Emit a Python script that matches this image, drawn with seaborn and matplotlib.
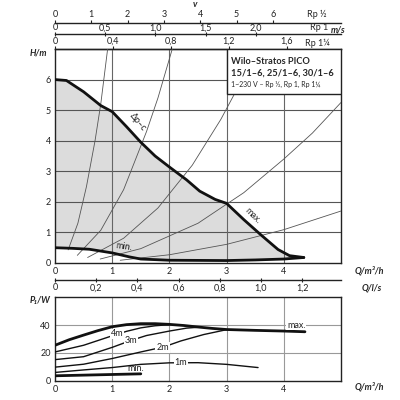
import numpy as np
import matplotlib
matplotlib.use("Agg")
import matplotlib.pyplot as plt
from matplotlib.patches import Rectangle
import seaborn as sns

# pump curve H(Q)
max_q = [0, 0.2, 0.5, 0.8, 1.0, 1.25, 1.5, 1.75, 2.0, 2.3, 2.53, 2.8, 3.0, 3.3, 3.6, 3.9, 4.1, 4.35]
max_h = [6.0, 5.97, 5.6, 5.15, 4.95, 4.46, 3.95, 3.5, 3.14, 2.72, 2.35, 2.08, 1.95, 1.42, 0.92, 0.44, 0.24, 0.18]
min_q = [0, 0.3, 0.6, 1.0, 1.3, 1.5, 2.0, 3.0, 3.5, 4.0, 4.35]
min_h = [0.5, 0.48, 0.45, 0.33, 0.2, 0.13, 0.09, 0.08, 0.1, 0.13, 0.18]

# system curves (thin lines)
sys_q = [
    [0.23, 0.4, 0.55, 0.7, 0.8, 0.92],
    [0.39, 0.8, 1.2, 1.6, 1.8, 2.05],
    [0.57, 1.2, 1.8, 2.4, 2.9, 3.2, 3.54],
    [0.79, 1.5, 2.5, 3.3, 4.0, 4.5, 5.0],
    [1.14, 2.0, 3.0, 4.0, 5.0],
]
sys_h = [
    [0.43, 1.3, 2.5, 4.0, 5.2, 7.0],
    [0.25, 1.07, 2.4, 4.3, 5.4, 7.0],
    [0.18, 0.81, 1.8, 3.2, 4.7, 5.75, 7.0],
    [0.13, 0.47, 1.3, 2.3, 3.4, 4.25, 5.25],
    [0.09, 0.27, 0.61, 1.09, 1.7],
]

# power P1(Q)
p_max_q = [0, 0.25, 0.5, 0.75, 1.0, 1.25, 1.5, 1.75, 2.0, 2.25, 2.5, 2.75, 3.0, 3.5, 4.0, 4.37]
p_max_w = [25.5, 29.5, 32.8, 36.0, 38.8, 40.3, 41.0, 41.0, 40.5, 39.7, 38.6, 37.6, 36.8, 36.2, 35.7, 35.2]
p_4m_q = [0, 0.5, 1.0, 1.25, 1.5, 1.75, 2.0]
p_4m_w = [20.7, 25.5, 32.3, 35.5, 38.0, 39.5, 40.3]
p_3m_q = [0, 0.5, 1.0, 1.33, 1.6, 2.0, 2.3, 2.55]
p_3m_w = [15.2, 17.3, 24.0, 29.0, 32.5, 35.7, 37.8, 38.6]
p_2m_q = [0, 0.5, 1.0, 1.5, 1.9, 2.2, 2.6, 3.0]
p_2m_w = [9.8, 11.9, 16.0, 20.7, 24.3, 28.6, 33.2, 36.7]
p_1m_q = [0, 0.5, 1.0, 1.5, 2.0, 2.5, 3.0, 3.55]
p_1m_w = [6.0, 7.8, 9.5, 11.8, 12.9, 13.0, 11.8, 9.5]
p_min_q = [0, 1.5]
p_min_w = [3.6, 5.0]

q_ticks = [0, 1, 2, 3, 4]
h_ticks = [0, 1, 2, 3, 4, 5, 6]
p_ticks = [0, 20, 40]

sns.set_style("white")
plt.rcParams['font.family'] = ['Lato', 'DejaVu Sans']

fig = plt.figure(figsize=(4, 4), dpi=100)
ax = fig.add_axes([0.1375, 0.3425, 0.715, 0.535])
axp = fig.add_axes([0.1375, 0.048, 0.715, 0.209])

fs = 6.5

# ---- main chart ----
ax.set_xlim(0, 5)
ax.set_ylim(0, 7)
ax.fill_between(max_q, max_h, np.interp(max_q, min_q, min_h), color='#dcdcdc', lw=0, zorder=1)
for y in range(1, 7):
    ax.axhline(y, color='#555555', lw=0.8, zorder=2)
for x in range(1, 5):
    ax.axvline(x, color='#666666', lw=0.8, zorder=2)
for qs, hs in zip(sys_q, sys_h):
    sns.lineplot(x=qs, y=hs, ax=ax, color='#555555', lw=0.6, sort=False, zorder=3)
sns.lineplot(x=max_q, y=max_h, ax=ax, color='#111111', lw=2.0, sort=False, zorder=4)
sns.lineplot(x=min_q, y=min_h, ax=ax, color='#111111', lw=2.0, sort=False, zorder=4)

ax.set_xticks(q_ticks)
ax.set_yticks(h_ticks)
ax.tick_params(length=0, labelsize=fs, pad=3, colors='#222222')
for s in ax.spines.values():
    s.set_linewidth(1.0)
    s.set_color('#222222')

ax.text(1.45, 4.6, 'Δp–c', rotation=-50, fontsize=fs, ha='center', va='center', zorder=6)
ax.text(3.45, 1.55, 'max.', rotation=-45, fontsize=fs, ha='center', va='center', zorder=6)
ax.text(1.2, 0.52, 'min.', rotation=-8, fontsize=fs, ha='center', va='center', zorder=6)

# title box
ax.add_patch(Rectangle((0.6, 0.79), 0.4, 0.21, transform=ax.transAxes, facecolor='white',
                       edgecolor='#222222', lw=1.0, zorder=5))
ax.text(0.615, 0.94, 'Wilo–Stratos PICO', transform=ax.transAxes, fontsize=6.7,
        fontweight='bold', va='center', zorder=6)
ax.text(0.615, 0.888, '15/1–6, 25/1–6, 30/1–6', transform=ax.transAxes, fontsize=6.7,
        fontweight='bold', va='center', zorder=6)
ax.text(0.615, 0.836, '1~230 V – Rp ½, Rp 1, Rp 1¼', transform=ax.transAxes, fontsize=5.0,
        va='center', zorder=6)

ax.text(-0.028, 0.981, 'H/m', transform=ax.transAxes, fontsize=fs, fontweight='bold',
        fontstyle='italic', ha='right', va='center')
ax.text(1.101, -0.037, 'Q/m³/h', transform=ax.transAxes, fontsize=fs, fontweight='bold',
        fontstyle='italic', ha='center', va='center')

# velocity scales on top
def vel_axis(loc, k, ticks, labels, direction):
    sec = ax.secondary_xaxis(loc, functions=(lambda q: q / k, lambda v: v * k))
    sec.set_xticks(ticks)
    sec.set_xticklabels(labels)
    sec.tick_params(labelsize=fs, length=2.5, pad=0, direction=direction, colors='#222222')
    sec.spines['top'].set_linewidth(1.0)
    sec.spines['top'].set_color('#222222')
    return sec

vel_axis(1.0, 2.53, [0, 0.4, 0.8, 1.2, 1.6], ['0', '0,4', '0,8', '1,2', '1,6'], 'out')
vel_axis(1.07, 1.755, [0, 0.5, 1.0, 1.5, 2.0], ['0', '0,5', '1,0', '1,5', '2,0'], 'inout')
vel_axis(1.123, 0.635, [0, 1, 2, 3, 4, 5, 6], ['0', '1', '2', '3', '4', '5', '6'], 'out')

ax.text(0.916, 1.16, 'Rp ½', transform=ax.transAxes, fontsize=fs, ha='center', va='center')
ax.text(0.923, 1.1, 'Rp 1', transform=ax.transAxes, fontsize=fs, ha='center', va='center')
ax.text(0.916, 1.025, 'Rp 1¼', transform=ax.transAxes, fontsize=fs, ha='center', va='center')
ax.text(0.99, 1.089, 'm/s', transform=ax.transAxes, fontsize=fs, fontweight='bold',
        fontstyle='italic', ha='center', va='center')
ax.text(0.49, 1.206, 'v', transform=ax.transAxes, fontsize=fs, fontweight='bold',
        fontstyle='italic', ha='center', va='center')

# flow in l/s below
ls = ax.secondary_xaxis(-0.0794, functions=(lambda q: q / 3.6, lambda v: v * 3.6))
ls.set_xticks([0, 0.2, 0.4, 0.6, 0.8, 1.0, 1.2])
ls.set_xticklabels(['0', '0,2', '0,4', '0,6', '0,8', '1,0', '1,2'])
ls.tick_params(labelsize=fs, length=3, pad=1, direction='inout', colors='#222222')
ls.spines['bottom'].set_linewidth(1.0)
ls.spines['bottom'].set_color('#222222')
ax.text(1.108, -0.117, 'Q/l/s', transform=ax.transAxes, fontsize=fs, fontweight='bold',
        fontstyle='italic', ha='center', va='center')

# ---- power chart ----
axp.set_xlim(0, 5)
axp.set_ylim(0, 60)
for y in [20, 40]:
    axp.axhline(y, color='#999999', lw=0.8, zorder=1)
for x in range(1, 5):
    axp.axvline(x, color='#999999', lw=0.8, zorder=1)

for qs, ws in [(p_4m_q, p_4m_w), (p_3m_q, p_3m_w), (p_2m_q, p_2m_w), (p_1m_q, p_1m_w)]:
    sns.lineplot(x=qs, y=ws, ax=axp, color='#111111', lw=1.0, sort=False, zorder=3)
sns.lineplot(x=p_max_q, y=p_max_w, ax=axp, color='#111111', lw=2.0, sort=False, zorder=4)
sns.lineplot(x=p_min_q, y=p_min_w, ax=axp, color='#111111', lw=2.0, sort=False, zorder=4)

bg = dict(facecolor='white', edgecolor='none', pad=0.6)
for q, w, t in [(1.08, 33.6, '4m'), (1.33, 29.2, '3m'), (1.88, 23.9, '2m'), (2.2, 13.0, '1m'),
                (4.22, 40, 'max.')]:
    axp.text(q, w, t, fontsize=fs, ha='center', va='center', bbox=bg, zorder=5, color='#222222')
axp.text(1.41, 8.6, 'min.', fontsize=fs, ha='center', va='center', zorder=5, color='#222222')

axp.set_xticks(q_ticks)
axp.set_yticks(p_ticks)
axp.tick_params(length=0, labelsize=fs, pad=3, colors='#222222')
for s in axp.spines.values():
    s.set_linewidth(1.0)
    s.set_color('#222222')
axp.set_xlabel('')
axp.set_ylabel('')
ax.set_xlabel('')
ax.set_ylabel('')
axp.text(-0.017, 0.964, 'P₁/W', transform=axp.transAxes, fontsize=fs, fontweight='bold',
         fontstyle='italic', ha='right', va='center')
axp.text(1.101, -0.075, 'Q/m³/h', transform=axp.transAxes, fontsize=fs, fontweight='bold',
         fontstyle='italic', ha='center', va='center')

fig.savefig('out.png', dpi=100)
